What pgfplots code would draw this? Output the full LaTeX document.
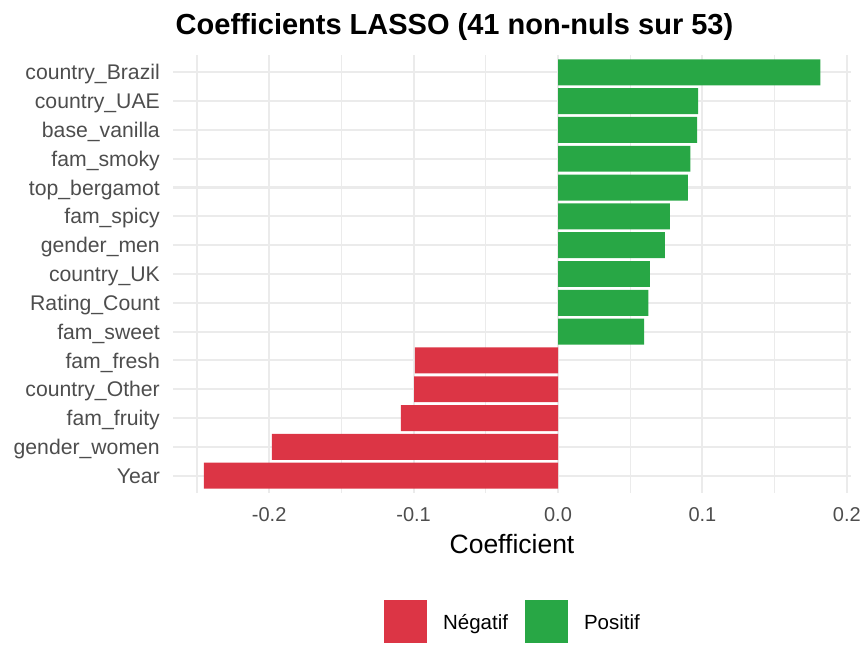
\documentclass[border=0pt]{standalone}
\usepackage{pgfplots}
\pgfplotsset{compat=1.18}
\usepackage{fontspec}
\setmainfont{Liberation Sans}
\definecolor{negred}{RGB}{220,53,69}
\definecolor{posgreen}{RGB}{40,167,69}
\definecolor{gridgray}{RGB}{235,235,235}
\definecolor{tickgray}{RGB}{77,77,77}
\begin{document}
\begin{tikzpicture}
\path[use as bounding box] (0bp,0bp) rectangle (864bp,672bp);
\begin{axis}[
  at={(173bp,179bp)}, anchor=south west,
  scale only axis, width=678bp, height=438bp,
  xmin=-0.2666, xmax=0.2029, ymin=0.4, ymax=15.6,
  xtick={-0.2,-0.1,0,0.1,0.2}, xticklabels={-0.2,-0.1,0.0,0.1,0.2},
  minor xtick={-0.25,-0.15,-0.05,0.05,0.15},
  ytick={1,...,15},
  yticklabels={Year,gender\_women,fam\_fruity,country\_Other,fam\_fresh,fam\_sweet,Rating\_Count,country\_UK,gender\_men,fam\_spicy,top\_bergamot,fam\_smoky,base\_vanilla,country\_UAE,country\_Brazil},
  xmajorgrids, xminorgrids, ymajorgrids,
  major grid style={draw=gridgray, line width=2.1bp},
  minor grid style={draw=gridgray, line width=1.07bp},
  axis line style={draw=none},
  major tick length=0pt, minor tick length=0pt,
  tick style={draw=none},
  ticklabel style={text=tickgray, inner sep=0pt},
  xticklabel style={font=\fontsize{20bp}{24bp}\selectfont, anchor=north, yshift=-14bp, text height=14.5bp, text depth=0pt},
  yticklabel style={font=\fontsize{21.2bp}{25bp}\selectfont, anchor=east, xshift=-13bp, text height=15.2bp, text depth=0pt},
  xlabel={Coefficient},
  xlabel style={at={(axis description cs:0.5,0)}, anchor=base, yshift=-60bp, font=\fontsize{26.5bp}{30bp}\selectfont, inner sep=0pt},
  xbar, bar width=0.9,
  legend columns=2,
  legend style={at={(0.5,-0.2945)}, anchor=center, draw=none, fill=none, inner sep=0pt,
    font=\fontsize{20.5bp}{24bp}\selectfont,
    nodes={inner sep=0pt},
    /tikz/every odd column/.append style={column sep=16bp},
    /tikz/every even column/.append style={column sep=17bp}},
]
\addplot[xbar, bar shift=0pt, fill=negred, draw=none,
  legend image code/.code={\fill[negred] (0bp,-20.8bp) rectangle (43bp,22.2bp);}]
  coordinates {(-0.2452,1) (-0.1982,2) (-0.1088,3) (-0.0997,4) (-0.0991,5)};
\addlegendentry{Négatif}
\addplot[xbar, bar shift=0pt, fill=posgreen, draw=none,
  legend image code/.code={\fill[posgreen] (0bp,-20.8bp) rectangle (43bp,22.2bp);}]
  coordinates {(0.0596,6) (0.0625,7) (0.0637,8) (0.0740,9) (0.0775,10) (0.0900,11) (0.0916,12) (0.0963,13) (0.0970,14) (0.1817,15)};
\addlegendentry{Positif}
\end{axis}
\node[anchor=base, font=\bfseries\fontsize{29bp}{34bp}\selectfont] at (454.5bp,637bp) {Coefficients LASSO (41 non-nuls sur 53)};
\end{tikzpicture}
\end{document}
